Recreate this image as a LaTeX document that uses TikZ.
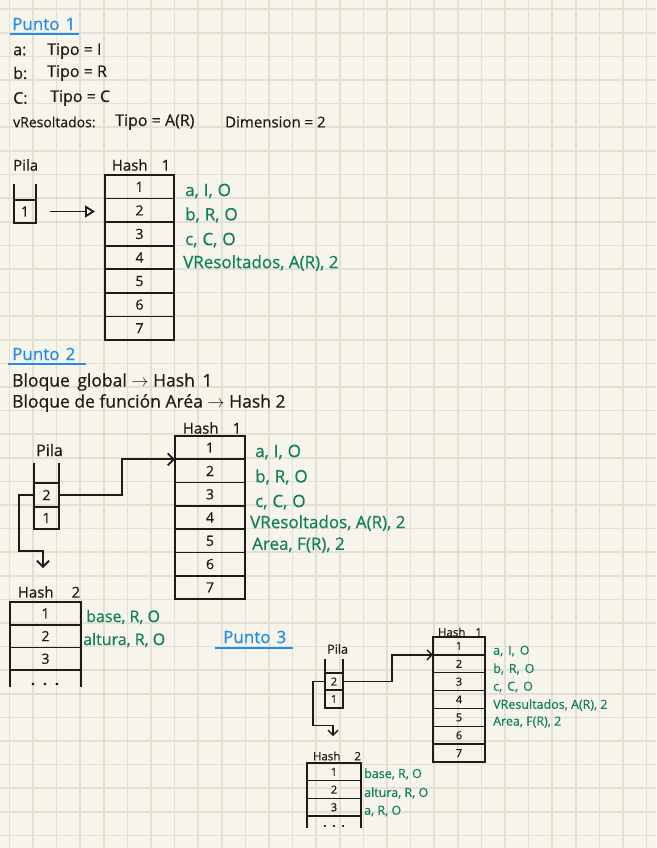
\documentclass[tikz,border=0pt]{standalone}
\usepackage{fontspec}
\usepackage{graphicx}
\setmainfont{Open Sans}[FakeBold=0.6]
\usetikzlibrary{arrows.meta}
\definecolor{paper}{RGB}{247,245,233}
\definecolor{gridc}{RGB}{226,224,211}
\definecolor{ink}{RGB}{28,28,28}
\definecolor{inkblue}{RGB}{33,140,235}
\definecolor{inkgreen}{RGB}{16,128,88}
\newcommand{\gs}{\hspace{5pt}}
\begin{document}
\begin{tikzpicture}[x=1pt,y=-1pt,
  note/.style={anchor=west,inner sep=0pt,text=ink,font=\fontsize{16}{16}\selectfont},
  bnote/.style={anchor=west,inner sep=0pt,text=ink,font=\fontsize{17.5}{17.5}\selectfont},
  head/.style={anchor=west,inner sep=0pt,text=inkblue,font=\fontsize{17}{17}\selectfont},
  uline/.style={draw=inkblue,line width=2pt},
  lbl/.style={inner sep=0pt,text=ink,font=\fontsize{15}{15}\selectfont},
  slbl/.style={inner sep=0pt,text=ink,font=\fontsize{11.5}{11.5}\selectfont},
  gr/.style={anchor=west,inner sep=0pt,text=inkgreen,font=\fontsize{17}{17}\selectfont},
  grm/.style={anchor=west,inner sep=0pt,text=inkgreen,font=\fontsize{16}{16}\selectfont},
  grs/.style={anchor=west,inner sep=0pt,text=inkgreen,font=\fontsize{12.5}{12.5}\selectfont},
  hcell/.style={draw=ink,line width=1.8pt,inner sep=0pt,outer sep=0pt,text=ink,font=\fontsize{14}{14}\selectfont},
  scell/.style={draw=ink,line width=1.4pt,inner sep=0pt,outer sep=0pt,text=ink,font=\fontsize{11}{11}\selectfont},
  wall/.style={draw=ink,line width=1.8pt},
  swall/.style={draw=ink,line width=1.4pt},
  conn/.style={draw=ink,line width=1.8pt,-{Straight Barb[length=6pt,width=12pt,line width=1.8pt]}},
  sconn/.style={draw=ink,line width=1.4pt,-{Straight Barb[length=5pt,width=10pt,line width=1.4pt]}},
]
\fill[paper] (0,0) rectangle (656,848);
\useasboundingbox (0,0) rectangle (656,848);
\foreach \k in {0,...,27} \draw[gridc,line width=1.6pt] ({9.3+23.6*\k},0) -- ({9.3+23.6*\k},848);
\foreach \k in {0,...,35} \draw[gridc,line width=1.6pt] (0,{9.3+23.6*\k}) -- (656,{9.3+23.6*\k});

% ---------------- Punto 1 ----------------
\node[head] (h1) at (12,24) {Punto\hspace{6pt}1};
\draw[uline] (10,34) -- (79,34);
\node[note] (n1a) at (13,51) {a:};
\node[note] (n1b) at (47,51) {Tipo = I};
\node[note] (n2a) at (13,73) {b:};
\node[note] (n2b) at (47,73) {Tipo = R};
\node[note] (n3a) at (13,98) {C:};
\node[note] (n3b) at (50,98) {Tipo = C};
\node[note,font=\fontsize{14}{14}\selectfont] (n4a) at (13,122) {vResoltados:};
\node[note] (n4b) at (115,122) {Tipo = A(R)};
\node[note,font=\fontsize{15}{15}\selectfont] (n4c) at (225,122) {Dimension = 2};

\node[lbl,anchor=west] (pila1) at (13,165) {Pila};
\node[lbl] (hash1lbl) at (141,165) {Hash\hspace{14pt}1};
\node[hcell,minimum width=22pt,minimum height=23pt] (p1c1) at (25,211.5) {1};
\draw[wall] (p1c1.north west) -- ++(0,-16);
\draw[wall] (p1c1.north east) -- ++(0,-16);
\foreach \i in {1,...,7}
  \node[hcell,minimum width=69pt,minimum height=23.57pt] (a\i) at (139.5,{175+23.57*(\i-0.5)}) {\i};
\draw[draw=ink,line width=1.8pt,shorten <=14pt,shorten >=10pt,-{Triangle[open,length=10pt,width=12pt,line width=1.8pt]}] (p1c1.east) -- (p1c1.east -| a1.west);
\node[gr] (g11) at (185,191) {a,\gs I,\gs O};
\node[gr] (g12) at (185,215) {b,\gs R,\gs O};
\node[gr] (g13) at (185,240) {c,\gs C,\gs O};
\node[gr] (g14) at (183,263) {VResoltados, A(R), 2};

% ---------------- Punto 2 ----------------
\node[head] (h2) at (12,354) {Punto\hspace{6pt}2};
\draw[uline] (8,364) -- (86,364);
\node[bnote] (b1) at (12,382) {Bloque\hspace{3pt} global $\rightarrow$ Hash\hspace{3pt} 1};
\node[bnote] (b2) at (12,403) {Bloque de función Aréa $\rightarrow$ Hash 2};

\node[lbl,anchor=west,font=\fontsize{16}{16}\selectfont] (pila2) at (36,450) {Pila};
\node[hcell,minimum width=25pt,minimum height=24pt] (p2c2) at (46.5,495) {2};
\node[hcell,minimum width=25pt,minimum height=22pt] (p2c1) at (46.5,518) {1};
\draw[wall] (p2c2.north west) -- ++(0,-20);
\draw[wall] (p2c2.north east) -- ++(0,-20);

\node[lbl] (hash21lbl) at (212,428) {Hash\hspace{14pt}1};
\foreach \i in {1,...,7}
  \node[hcell,minimum width=70pt,minimum height=23.29pt] (b\i) at (210,{436+23.29*(\i-0.5)}) {\i};
\draw[conn] (p2c2.east) -- ++(63,0) |- (b1.south west);
\node[gr] (g21) at (255,452) {a,\gs I,\gs O};
\node[gr] (g22) at (255,477) {b,\gs R,\gs O};
\node[gr] (g23) at (255,502) {c,\gs C,\gs O};
\node[gr] (g24) at (250,523) {VResoltados, A(R), 2};
\node[gr] (g25) at (252,545) {Area, F(R), 2};

\coordinate (p2down) at (43,568);
\draw[conn] (p2c2.west) -- ++(-15,0) -- ++(0,56) -| (p2down);

\node[lbl] (hash22lbl) at (49,592) {Hash\hspace{18pt}2};
\foreach \i in {1,2,3}
  \node[hcell,minimum width=71pt,minimum height=22.7pt] (c\i) at (45.5,{602+22.7*(\i-0.5)}) {\i};
\draw[wall] (c3.south west) -- ++(0,17);
\draw[wall] (c3.south east) -- ++(0,17);
\node[lbl,font=\bfseries\fontsize{14}{14}\selectfont] (dots2) at (45,684) {.\hspace{8pt}.\hspace{8pt}.};
\node[grm] (g26) at (86,617) {base, R, O};
\node[grm] (g27) at (83,640) {altura, R, O};

% ---------------- Punto 3 ----------------
\node[head] (h3) at (223,637) {Punto\hspace{6pt}3};
\draw[uline] (215,648) -- (293,648);

\node[slbl,anchor=west,font=\fontsize{12.5}{12.5}\selectfont] (pila3) at (327,649) {Pila};
\node[scell,minimum width=18pt,minimum height=17pt] (p3c2) at (334,681.5) {2};
\node[scell,minimum width=18pt,minimum height=18pt] (p3c1) at (334,699) {1};
\draw[swall] (p3c2.north west) -- ++(0,-14);
\draw[swall] (p3c2.north east) -- ++(0,-14);

\node[slbl] (hash31lbl) at (460,632) {Hash\hspace{10pt}1};
\foreach \i in {1,...,7}
  \node[scell,minimum width=52pt,minimum height=17.86pt] (d\i) at (459,{637+17.86*(\i-0.5)}) {\i};
\draw[sconn] (p3c2.east) -- ++(49,0) |- (d1.south west);
\node[grs] (g31) at (493,651) {a,\gs I,\gs O};
\node[grs] (g32) at (493,669) {b,\gs R,\gs O};
\node[grs] (g33) at (493,687) {c,\gs C,\gs O};
\node[grs] (g34) at (493,705) {VResultados, A(R), 2};
\node[grs] (g35) at (493,722) {Area, F(R), 2};

\coordinate (p3down) at (333,736);
\draw[sconn] (p3c2.west) -- ++(-12,0) -- ++(0,44) -| (p3down);

\node[slbl] (hash32lbl) at (337,756) {Hash\hspace{14pt}2};
\foreach \i in {1,2,3}
  \node[scell,minimum width=54pt,minimum height=17.7pt] (e\i) at (334,{763+17.7*(\i-0.5)}) {\i};
\draw[swall] (e3.south west) -- ++(0,12);
\draw[swall] (e3.south east) -- ++(0,12);
\node[slbl,font=\bfseries\fontsize{11}{11}\selectfont] (dots3) at (334,826) {.\hspace{6pt}.\hspace{6pt}.};
\node[grs] (g36) at (364,774) {base, R, O};
\node[grs] (g37) at (364,793) {altura, R, O};
\node[grs] (g38) at (364,811) {a, R, O};
\end{tikzpicture}
\end{document}
